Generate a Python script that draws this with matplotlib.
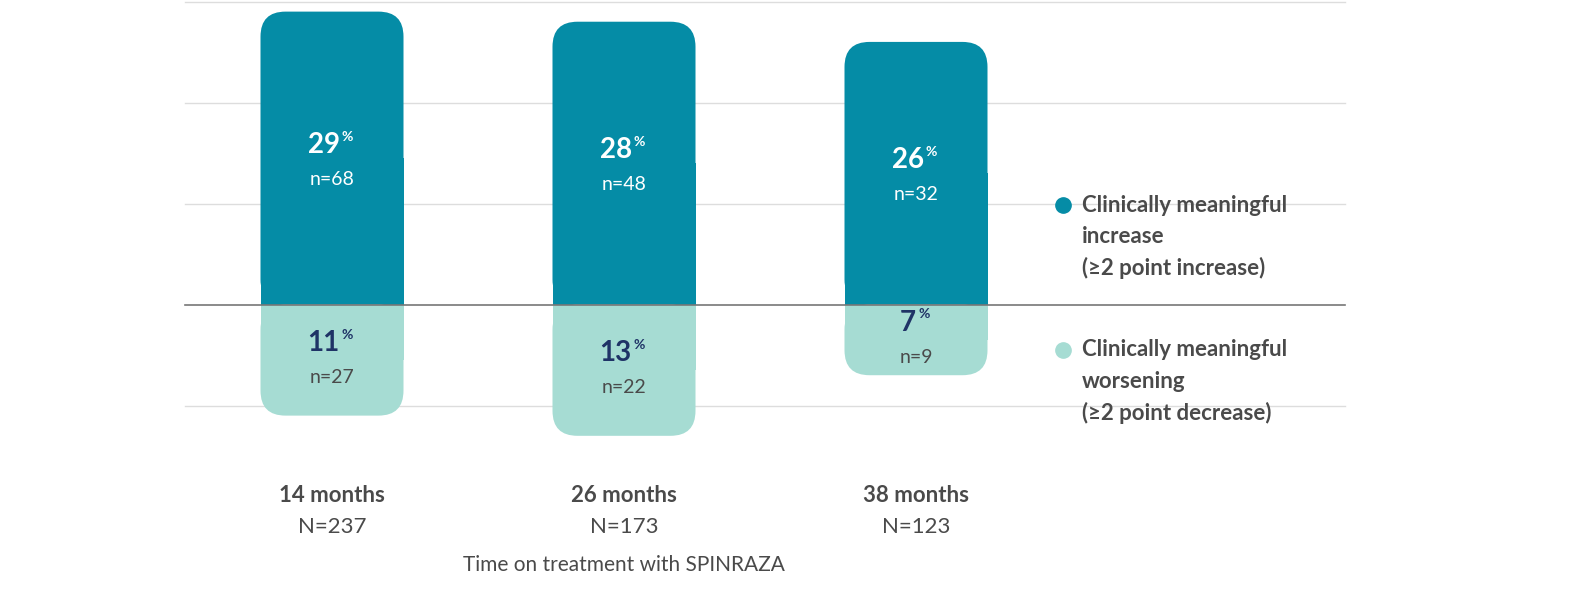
import matplotlib
matplotlib.use("Agg")
import matplotlib.pyplot as plt
from matplotlib.patches import FancyBboxPatch, Rectangle

categories = ["14 months", "26 months", "38 months"]
totals = ["N=237", "N=173", "N=123"]
increase = [29, 28, 26]
increase_n = [68, 48, 32]
worsening = [11, 13, 7]
worsening_n = [27, 22, 9]

TEAL = "#058CA6"
LIGHT = "#A6DCD3"
NAVY = "#1F3366"
GREY = "#4A4A4A"
plt.rcParams['font.family'] = ['Lato', 'DejaVu Sans']

W, H = 1592, 607
fig = plt.figure(figsize=(W/100, H/100), dpi=100)
ax = fig.add_axes([0, 0, 1, 1])
x0, sp = 332, 292
ax.set_xlim(-x0/sp, (W-x0)/sp)
ytop = 30.15
ax.set_ylim(ytop - H/10.1, ytop)
ax.axis("off")

gx0, gx1 = (185-x0)/sp, (1345-x0)/sp
for g in [30, 20, 10, -10]:
    ax.plot([gx0, gx1], [g, g], color="#DDDDDD", lw=1, zorder=0)
ax.plot([gx0, gx1], [0, 0], color="#777777", lw=1.2, zorder=3)

bw = 143/sp
rs = 25/sp
asp = sp/10.1

def rbar(x, v, color):
    y = min(0, v)
    h = abs(v)
    p = FancyBboxPatch((x-bw/2, y), bw, h, boxstyle=f"round,pad=0,rounding_size={rs}",
                       mutation_aspect=asp, fc=color, ec="none", zorder=1)
    ax.add_patch(p)
    ax.add_patch(Rectangle((x-bw/2, 0 if v > 0 else v/2), bw, abs(v)/2, fc=color, ec="none", zorder=1))

def label(x, v, n, numcol, ncol):
    mid = v/2 - 0.4 if v > 0 else v/2
    ax.annotate(f"{abs(v)}", (x, mid+1.7), xytext=(-6, 0), textcoords="offset points",
                ha="center", va="center", fontsize=20, fontweight="bold", color=numcol, zorder=4)
    w = 0.0
    ax.annotate("%", (x, mid+1.7), xytext=(7 if abs(v) >= 10 else 2, 6), textcoords="offset points",
                ha="left", va="center", fontsize=10, fontweight="bold", color=numcol, zorder=4)
    ax.text(x, mid-1.7, f"n={n}", ha="center", va="center", fontsize=14, color=ncol, zorder=4)

for i in range(len(categories)):
    rbar(i, increase[i], TEAL)
    rbar(i, -worsening[i], LIGHT)
    label(i, increase[i], increase_n[i], "white", "white")
    label(i, -worsening[i], worsening_n[i], NAVY, GREY)
    ax.text(i, ytop - 495/10.1, categories[i], ha="center", va="center", fontsize=16, fontweight="bold", color=GREY)
    ax.text(i, ytop - 527/10.1, totals[i], ha="center", va="center", fontsize=16, color=GREY)

ax.text(1, ytop - 565/10.1, "Time on treatment with SPINRAZA", ha="center", va="center", fontsize=15, color=GREY)

def ftext(px, py, s, **kw):
    fig.text(px/W, 1-py/H, s, **kw)

for (py, col, lines) in [(205, TEAL, ["Clinically meaningful", "increase", "(≥2 point increase)"]),
                         (350, LIGHT, ["Clinically meaningful", "worsening", "(≥2 point decrease)"])]:
    fig.add_artist(plt.Circle((1063/W, 1-py/H), 0, color=col))
    ax.plot([(1063-x0)/sp], [ytop - py/10.1], "o", ms=11, color=col)
    for k, t in enumerate(lines):
        ftext(1082, py + k*31.5, t, ha="left", va="center", fontsize=16, fontweight="bold", color=GREY)

fig.savefig("out.png", dpi=100)
